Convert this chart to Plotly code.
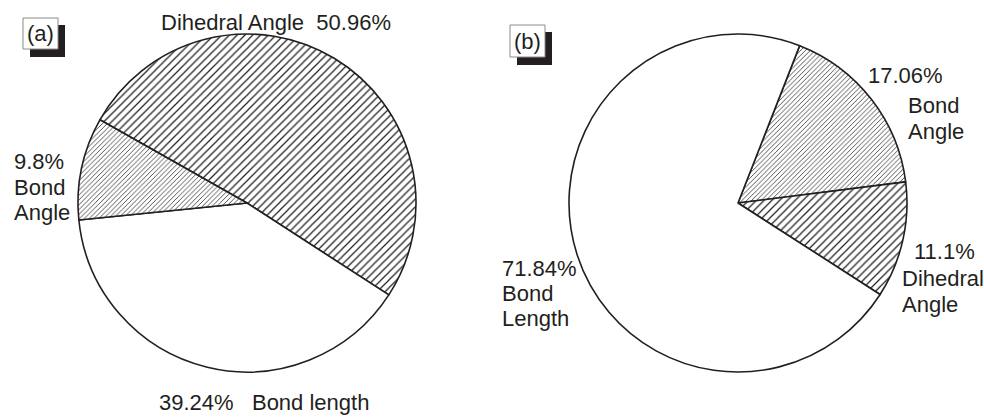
import plotly.graph_objects as go

W, H = 984, 417

# Panel (a): share of each term, listed clockwise from the upper-left edge
labels_a = ["Dihedral Angle", "Bond length", "Bond Angle"]
values_a = [50.96, 39.24, 9.8]
hatch_a = ["/", "", "/"]
hatch_size_a = [5.5, 5, 3.4]

# Panel (b): share of each term, listed clockwise from the top edge
labels_b = ["Bond Angle", "Dihedral Angle", "Bond Length"]
values_b = [17.06, 11.1, 71.84]
hatch_b = ["/", "/", ""]
hatch_size_b = [3.4, 5.5, 5]

INK = "#231f20"
FONT = "Liberation Sans, Arial, Helvetica, sans-serif"
FS = 22


def px_x(x):
    return x / W


def px_y(y):
    return 1 - y / H


def pie(labels, values, hatch, sizes, rotation, dom_x, dom_y):
    return go.Pie(
        labels=labels,
        values=values,
        sort=False,
        direction="clockwise",
        rotation=rotation,
        textinfo="none",
        hoverinfo="label+percent",
        showlegend=False,
        domain=dict(x=dom_x, y=dom_y),
        marker=dict(
            colors=["white"] * len(values),
            line=dict(color=INK, width=1.6),
            pattern=dict(
                shape=hatch,
                fgcolor=INK,
                bgcolor="white",
                size=sizes,
                solidity=0.22,
            ),
        ),
    )


fig = go.Figure()
fig.add_trace(pie(labels_a, values_a, hatch_a, hatch_size_a, -60.5,
                  [px_x(78), px_x(416)], [px_y(372), px_y(34)]))
fig.add_trace(pie(labels_b, values_b, hatch_b, hatch_size_b, 21.4,
                  [px_x(569), px_x(907)], [px_y(372), px_y(34)]))


def label(text, x, baseline):
    # place a single text line by its left edge and baseline (in pixels)
    fig.add_annotation(
        text=text, x=px_x(x), y=px_y(baseline - 0.35 * FS + 1),
        xref="paper", yref="paper",
        xanchor="left", yanchor="middle", showarrow=False,
        font=dict(family=FONT, size=FS, color=INK),
    )


label("Dihedral Angle  50.96%", 159, 29)
label("9.8%", 12, 168)
label("Bond", 12, 194)
label("Angle", 12, 219)
label("39.24%   Bond length", 157, 409)

label("17.06%", 866, 82)
label("Bond", 906, 112)
label("Angle", 906, 138)
label("11.1%", 912, 258)
label("Dihedral", 900, 285)
label("Angle", 900, 311)
label("71.84%", 500, 275)
label("Bond", 500, 300)
label("Length", 500, 325)


# Panel tags: framed box with a dropped shadow
def tag(text, x0, y0, x1, y1):
    fig.add_shape(type="rect", xref="paper", yref="paper",
                  x0=px_x(x0 + 7), x1=px_x(x1 + 7), y0=px_y(y1 + 8), y1=px_y(y0 + 7),
                  fillcolor=INK, line=dict(width=0), layer="above")
    fig.add_shape(type="rect", xref="paper", yref="paper",
                  x0=px_x(x0), x1=px_x(x1), y0=px_y(y1), y1=px_y(y0),
                  fillcolor="white", line=dict(color="#8a8a8a", width=1), layer="above")
    fig.add_annotation(text=text, x=px_x((x0 + x1) / 2), y=px_y((y0 + y1) / 2),
                       xref="paper", yref="paper", xanchor="center", yanchor="middle",
                       showarrow=False, font=dict(family=FONT, size=FS, color=INK))


tag("(a)", 23, 18, 58, 49)
tag("(b)", 510, 25, 545, 57)

fig.update_layout(
    width=W, height=H,
    margin=dict(l=0, r=0, t=0, b=0),
    paper_bgcolor="white",
    plot_bgcolor="white",
)

fig.write_html("out.html")
